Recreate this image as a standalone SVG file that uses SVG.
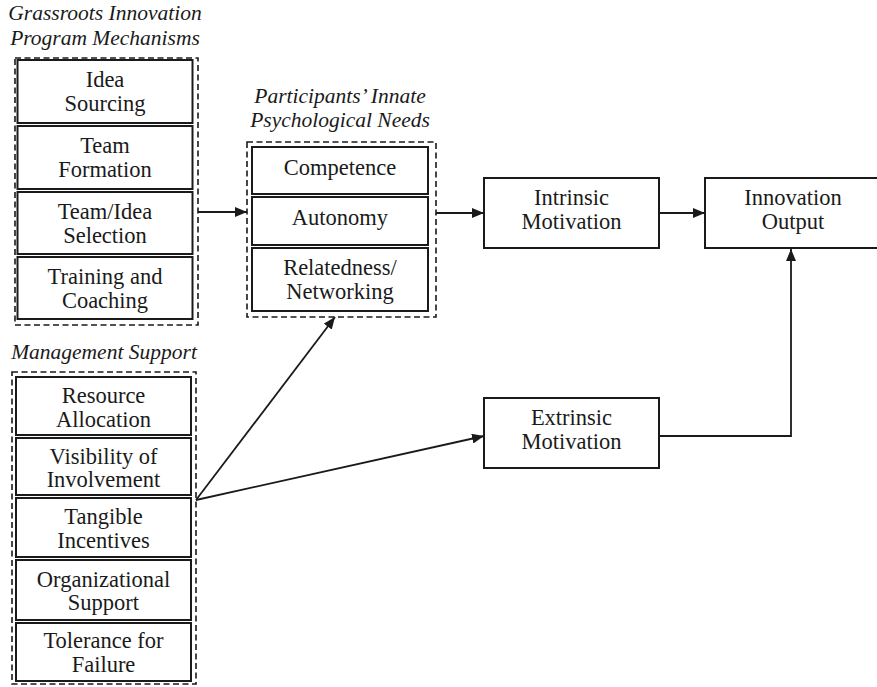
<svg xmlns="http://www.w3.org/2000/svg" width="877" height="687" viewBox="0 0 877 687" font-family="'Liberation Serif', 'Times New Roman', serif">
  <style>
    .lbl { font-size: 22.5px; text-anchor: middle; fill: #1a1a1a; }
    .ttl { font-size: 21.5px; font-style: italic; text-anchor: middle; fill: #1a1a1a; }
    .box { fill: #ffffff; stroke: #1a1a1a; stroke-width: 2; }
    .grp { fill: none; stroke: #1a1a1a; stroke-width: 1.6; stroke-dasharray: 6 3.5; }
    .conn { fill: none; stroke: #1a1a1a; stroke-width: 1.8; }
  </style>
  <defs>
    <marker id="arrow" markerUnits="userSpaceOnUse" markerWidth="12" markerHeight="10" refX="12" refY="5" orient="auto">
      <path d="M0,0 L12,5 L0,10 z" fill="#1a1a1a"/>
    </marker>
  </defs>

  <rect width="877" height="687" fill="#ffffff"/>

  <!-- Grassroots innovation program mechanisms -->
  <g id="mechanisms">
    <text class="ttl" x="105" y="20">Grassroots Innovation</text>
    <text class="ttl" x="105" y="45">Program Mechanisms</text>
    <rect class="grp" x="15" y="58" width="183" height="267"/>
    <g id="idea-sourcing">
      <rect class="box" x="17.5" y="60" width="175" height="63"/>
      <text class="lbl" x="105" y="87">Idea</text>
      <text class="lbl" x="105" y="111">Sourcing</text>
    </g>
    <g id="team-formation">
      <rect class="box" x="17.5" y="126" width="175" height="63"/>
      <text class="lbl" x="105" y="153">Team</text>
      <text class="lbl" x="105" y="177">Formation</text>
    </g>
    <g id="team-idea-selection">
      <rect class="box" x="17.5" y="192" width="175" height="62"/>
      <text class="lbl" x="105" y="219">Team/Idea</text>
      <text class="lbl" x="105" y="243">Selection</text>
    </g>
    <g id="training-coaching">
      <rect class="box" x="17.5" y="257" width="175" height="62"/>
      <text class="lbl" x="105" y="284">Training and</text>
      <text class="lbl" x="105" y="308">Coaching</text>
    </g>
  </g>

  <!-- Participants' innate psychological needs -->
  <g id="needs">
    <text class="ttl" x="340" y="103">Participants’ Innate</text>
    <text class="ttl" x="340" y="127">Psychological Needs</text>
    <rect class="grp" x="247" y="142" width="189" height="175"/>
    <g id="competence">
      <rect class="box" x="252" y="147" width="176" height="47"/>
      <text class="lbl" x="340" y="175">Competence</text>
    </g>
    <g id="autonomy">
      <rect class="box" x="252" y="197" width="176" height="48"/>
      <text class="lbl" x="340" y="225">Autonomy</text>
    </g>
    <g id="relatedness">
      <rect class="box" x="252" y="248" width="176" height="63"/>
      <text class="lbl" x="340" y="275">Relatedness/</text>
      <text class="lbl" x="340" y="299">Networking</text>
    </g>
  </g>

  <!-- Management support -->
  <g id="management">
    <text class="ttl" x="104" y="359">Management Support</text>
    <rect class="grp" x="12" y="372" width="184" height="312"/>
    <g id="resource-allocation">
      <rect class="box" x="16" y="377" width="175" height="58"/>
      <text class="lbl" x="103.5" y="402.5">Resource</text>
      <text class="lbl" x="103.5" y="426.5">Allocation</text>
    </g>
    <g id="visibility">
      <rect class="box" x="16" y="438" width="175" height="57"/>
      <text class="lbl" x="103.5" y="463.5">Visibility of</text>
      <text class="lbl" x="103.5" y="487">Involvement</text>
    </g>
    <g id="tangible-incentives">
      <rect class="box" x="16" y="498" width="175" height="59"/>
      <text class="lbl" x="103.5" y="524">Tangible</text>
      <text class="lbl" x="103.5" y="548">Incentives</text>
    </g>
    <g id="organizational-support">
      <rect class="box" x="16" y="560" width="175" height="60"/>
      <text class="lbl" x="103.5" y="586.5">Organizational</text>
      <text class="lbl" x="103.5" y="610">Support</text>
    </g>
    <g id="tolerance">
      <rect class="box" x="16" y="623" width="175" height="58"/>
      <text class="lbl" x="103.5" y="648">Tolerance for</text>
      <text class="lbl" x="103.5" y="672">Failure</text>
    </g>
  </g>

  <g id="intrinsic">
    <rect class="box" x="484" y="178" width="175" height="70"/>
    <text class="lbl" x="571.5" y="205">Intrinsic</text>
    <text class="lbl" x="571.5" y="229">Motivation</text>
  </g>

  <g id="extrinsic">
    <rect class="box" x="484" y="398" width="175" height="70"/>
    <text class="lbl" x="571.5" y="425">Extrinsic</text>
    <text class="lbl" x="571.5" y="449">Motivation</text>
  </g>

  <g id="innovation-output">
    <rect class="box" x="705" y="178" width="176" height="70"/>
    <text class="lbl" x="793" y="205">Innovation</text>
    <text class="lbl" x="793" y="229">Output</text>
  </g>

  <!-- Connectors -->
  <g id="connectors">
    <line class="conn" x1="198" y1="212" x2="247" y2="212" marker-end="url(#arrow)"/>
    <line class="conn" x1="436" y1="213" x2="484" y2="213" marker-end="url(#arrow)"/>
    <line class="conn" x1="659" y1="213" x2="705" y2="213" marker-end="url(#arrow)"/>
    <polyline class="conn" points="659,436 791,436 791,249" marker-end="url(#arrow)"/>
    <line class="conn" x1="196" y1="500" x2="335" y2="317" marker-end="url(#arrow)"/>
    <line class="conn" x1="196" y1="500" x2="484" y2="436" marker-end="url(#arrow)"/>
  </g>
</svg>
